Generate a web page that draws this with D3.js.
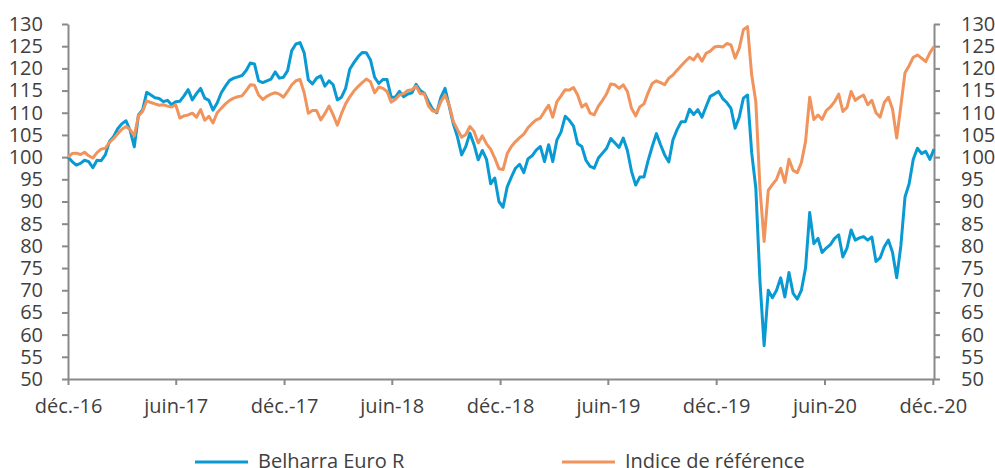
<!DOCTYPE html>
<html>
<head>
<meta charset="utf-8">
<script src="https://cdn.jsdelivr.net/npm/d3@7"></script>
<style>
  body { margin: 0; background: #ffffff; }
  svg { display: block; font-family: "Open Sans", sans-serif; }
</style>
</head>
<body>
<div id="chart"><svg width="995" height="468"></svg></div>
<script>
// weekly closing values (Thursdays), base 100 at 29/12/2016
const dates = [
  "2016-12-29",
  "2017-01-05","2017-01-12","2017-01-19","2017-01-26","2017-02-02","2017-02-09","2017-02-16","2017-02-23",
  "2017-03-02","2017-03-09","2017-03-16","2017-03-23","2017-03-30","2017-04-06","2017-04-13","2017-04-20","2017-04-27",
  "2017-05-04","2017-05-11","2017-05-18","2017-05-25","2017-06-01","2017-06-08","2017-06-15","2017-06-22","2017-06-29",
  "2017-07-06","2017-07-13","2017-07-20","2017-07-27","2017-08-03","2017-08-10","2017-08-17","2017-08-24","2017-08-31",
  "2017-09-07","2017-09-14","2017-09-21","2017-09-28","2017-10-05","2017-10-12","2017-10-19","2017-10-26",
  "2017-11-02","2017-11-09","2017-11-16","2017-11-23","2017-11-30","2017-12-07","2017-12-14","2017-12-21","2017-12-28",
  "2018-01-04","2018-01-11","2018-01-18","2018-01-25","2018-02-01","2018-02-08","2018-02-15","2018-02-22",
  "2018-03-01","2018-03-08","2018-03-15","2018-03-22","2018-03-29","2018-04-05","2018-04-12","2018-04-19","2018-04-26",
  "2018-05-03","2018-05-10","2018-05-17","2018-05-24","2018-05-31","2018-06-07","2018-06-14","2018-06-21","2018-06-28",
  "2018-07-05","2018-07-12","2018-07-19","2018-07-26","2018-08-02","2018-08-09","2018-08-16","2018-08-23","2018-08-30",
  "2018-09-06","2018-09-13","2018-09-20","2018-09-27","2018-10-04","2018-10-11","2018-10-18","2018-10-25",
  "2018-11-01","2018-11-08","2018-11-15","2018-11-22","2018-11-29","2018-12-06","2018-12-13","2018-12-20","2018-12-27",
  "2019-01-03","2019-01-10","2019-01-17","2019-01-24","2019-01-31","2019-02-07","2019-02-14","2019-02-21","2019-02-28",
  "2019-03-07","2019-03-14","2019-03-21","2019-03-28","2019-04-04","2019-04-11","2019-04-18","2019-04-25",
  "2019-05-02","2019-05-09","2019-05-16","2019-05-23","2019-05-30","2019-06-06","2019-06-13","2019-06-20","2019-06-27",
  "2019-07-04","2019-07-11","2019-07-18","2019-07-25","2019-08-01","2019-08-08","2019-08-15","2019-08-22","2019-08-29",
  "2019-09-05","2019-09-12","2019-09-19","2019-09-26","2019-10-03","2019-10-10","2019-10-17","2019-10-24","2019-10-31",
  "2019-11-07","2019-11-14","2019-11-21","2019-11-28","2019-12-05","2019-12-12","2019-12-19","2019-12-26",
  "2020-01-02","2020-01-09","2020-01-16","2020-01-23","2020-01-30","2020-02-06","2020-02-13","2020-02-20","2020-02-27",
  "2020-03-05","2020-03-12","2020-03-19","2020-03-26","2020-04-02","2020-04-09","2020-04-16","2020-04-23","2020-04-30",
  "2020-05-07","2020-05-14","2020-05-21","2020-05-28","2020-06-04","2020-06-11","2020-06-18","2020-06-25",
  "2020-07-02","2020-07-09","2020-07-16","2020-07-23","2020-07-30","2020-08-06","2020-08-13","2020-08-20","2020-08-27",
  "2020-09-03","2020-09-10","2020-09-17","2020-09-24","2020-10-01","2020-10-08","2020-10-15","2020-10-22","2020-10-29",
  "2020-11-05","2020-11-12","2020-11-19","2020-11-26","2020-12-03","2020-12-10","2020-12-17","2020-12-24","2020-12-31"
];

const belharra = [
  100, 99, 98.2, 98.6, 99.3, 99, 97.6, 99.3, 99.2, 100.5,
  103.5, 104.6, 106.4, 107.5, 108.2, 106, 102.3, 109.5, 110.6, 114.6,
  114, 113.4, 113.2, 112.5, 112.8, 111.8, 112.5, 112.6, 113.8, 115.2,
  112.9, 114.3, 115.5, 113.3, 112.8, 110.6, 112.2, 114.5, 116, 117.3,
  117.8, 118.1, 118.4, 119.5, 121.2, 121, 117.2, 116.8, 117.2, 117.6,
  119.2, 117.8, 118, 119.5, 124, 125.5, 125.8, 123.5, 117.4, 116.5,
  117.8, 118.3, 116, 117.2, 116.3, 112.9, 113.5, 115.5, 119.8, 121.3,
  122.6, 123.6, 123.5, 121.9, 118, 116.6, 117.5, 117.5, 113.5, 113.5,
  114.8, 113.6, 114.2, 114.5, 116.4, 115, 114.4, 112.5, 110.8, 110,
  113.5, 115.5, 111.5, 107.5, 104.5, 100.5, 102.4, 105.4, 102.8, 99.4,
  101.5, 99.5, 94, 95.3, 90, 88.7, 93.3, 95.5, 97.5, 98.4,
  96.5, 99.6, 100.3, 101.6, 102.4, 99, 102.8, 99, 103.9, 105.7,
  109.2, 108.3, 107, 103, 102.4, 99.3, 97.9, 97.5, 99.8, 100.9,
  102, 104.2, 103.2, 102.2, 104.3, 101.5, 96.8, 93.7, 95.5, 95.5,
  99.2, 102.4, 105.3, 102.8, 100.5, 98.9, 103.9, 106.2, 108, 108,
  110.8, 109.6, 110.7, 109, 111.4, 113.7, 114.2, 114.8, 113.2, 112.3,
  111, 106.5, 109, 113.3, 114, 101, 93, 72, 57.5, 70,
  68.3, 70, 72.8, 68.5, 74, 69.3, 68, 70, 75, 87.5,
  80.5, 81.7, 78.5, 79.5, 80.3, 81.7, 82.5, 77.5, 79.5, 83.6,
  81.3, 81.8, 82.1, 81.3, 82, 76.5, 77.3, 79.8, 81.3, 78.5,
  72.8, 80, 91, 94, 99.5, 102, 100.8, 101.3, 99.5, 101.8
];

const indice = [
  100, 100.8, 100.9, 100.6, 101.1, 100.3, 99.8, 101, 101.8, 102,
  103.3, 104.2, 105.3, 106.3, 106.9, 106.2, 104.8, 109.3, 110.3, 112.7,
  112.3, 112, 111.7, 111.8, 111.5, 111.3, 111.8, 108.8, 109.3, 109.5,
  109.9, 109, 110.7, 108.3, 109.2, 107.7, 110, 111, 112, 112.8,
  113.3, 113.6, 113.8, 115, 116.3, 116.2, 114, 113, 113.7, 114.2,
  114.5, 114.2, 113.5, 114.8, 116.3, 117.2, 117.5, 114.5, 109.9, 110.5,
  110.5, 108.4, 109.8, 111.5, 109.5, 107.2, 109.8, 112, 113.6, 114.9,
  115.9, 116.8, 117.6, 117, 114.5, 115.8, 115.5, 114.8, 112.4, 113,
  114, 114.3, 115, 115.2, 116, 114.3, 114.3, 111.5, 110.4, 110.2,
  112.5, 114, 111.7, 108, 106.2, 104.5, 105.1, 106.9, 105.8, 103.2,
  104.8, 103, 101.8, 99.8, 97.4, 97.2, 100.8, 102.4, 103.5, 104.4,
  105.2, 106.6, 107.6, 108.4, 108.8, 110.3, 111.7, 109, 112.5, 113.8,
  115.2, 115.1, 115.7, 114, 111.3, 112, 109.9, 109.5, 111.5, 112.8,
  114.3, 116.5, 116.3, 115.5, 116.3, 114.8, 111, 109.3, 111.3, 112,
  114.5, 116.6, 117.2, 116.8, 116.3, 117.8, 118.5, 119.6, 120.6, 121.6,
  122.5, 121.9, 123.2, 121.6, 123.4, 123.9, 124.8, 125, 124.8, 125.6,
  125.3, 122.3, 124.5, 128.7, 129.4, 118.5, 112.5, 93, 81, 92.5,
  93.8, 95, 97.5, 94.3, 99.5, 97, 96.5, 98.8, 103.5, 113.5,
  108.5, 109.5, 108.5, 110.5, 111.3, 112.5, 114.2, 110.3, 111.2, 114.8,
  112.8, 113.5, 114, 111.8, 112.8, 110, 109, 112.3, 113.5, 110.8,
  104.3, 111.5, 119, 120.6, 122.5, 123, 122.3, 121.5, 123.5, 124.9
];

const xTickDates = ["2016-12-29", "2017-06-29", "2017-12-29", "2018-06-29", "2018-12-29",
                    "2019-06-29", "2019-12-29", "2020-06-29", "2020-12-29"];
const xTickLabels = ["déc.-16", "juin-17", "déc.-17", "juin-18", "déc.-18",
                     "juin-19", "déc.-19", "juin-20", "déc.-20"];
const yTicks = [50, 55, 60, 65, 70, 75, 80, 85, 90, 95, 100, 105, 110, 115, 120, 125, 130];

const seriesNames = ["Belharra Euro R", "Indice de référence"];
const seriesColors = ["#0a9ad3", "#f0935c"];

class PerfChart {

  constructor() {
    this.svg = d3.select("#chart svg");
    this.width = parseInt(this.svg.attr("width"));
    this.height = parseInt(this.svg.attr("height"));
    this.margin = {left: 68, right: 61, top: 24, bottom: 89};

    this.axisColor = "#898989";
    this.textColor = "#404040";
    this.fontSize = 20;

    let parse = d3.timeParse("%Y-%m-%d");
    this.dates = dates.map(parse);
    this.tickDates = xTickDates.map(parse);

    this.x = d3.scaleTime()
      .domain([parse("2016-12-29"), parse("2020-12-31")])
      .range([this.margin.left, this.width - this.margin.right]);

    this.y = d3.scaleLinear()
      .domain([50, 130])
      .range([this.height - this.margin.bottom, this.margin.top]);

    this.drawAxes();
    this.drawLines();
    this.drawLegend();
  }

  styleAxis(g) {
    g.attr("font-size", this.fontSize)
      .attr("font-family", null);
    g.select(".domain")
      .attr("stroke", this.axisColor)
      .attr("stroke-width", 2);
    g.selectAll(".tick line")
      .attr("stroke", this.axisColor)
      .attr("stroke-width", 2);
    g.selectAll(".tick text")
      .attr("fill", this.textColor);
  }

  drawAxes() {
    let bottom = this.height - this.margin.bottom;
    let right = this.width - this.margin.right;

    /* Left axis */
    this.svg.append("g")
      .attr("transform", `translate(${this.margin.left},0)`)
      .call(d3.axisLeft(this.y).tickValues(yTicks).tickSize(6).tickSizeOuter(0).tickPadding(19))
      .call(g => this.styleAxis(g));

    /* Right axis (same scale) */
    this.svg.append("g")
      .attr("transform", `translate(${right},0)`)
      .call(d3.axisRight(this.y).tickValues(yTicks).tickSize(6).tickSizeOuter(0).tickPadding(21))
      .call(g => this.styleAxis(g));

    /* Date axis */
    this.svg.append("g")
      .attr("transform", `translate(0,${bottom})`)
      .call(d3.axisBottom(this.x)
        .tickValues(this.tickDates)
        .tickFormat((d, i) => xTickLabels[i])
        .tickSize(6).tickSizeOuter(0).tickPadding(14))
      .call(g => this.styleAxis(g));
  }

  drawLines() {
    let line = d3.line()
      .x((d, i) => this.x(this.dates[i]))
      .y(d => this.y(d));

    [belharra, indice].forEach((serie, k) => {
      this.svg.append("path")
        .datum(serie)
        .attr("fill", "none")
        .attr("stroke", seriesColors[k])
        .attr("stroke-width", 3)
        .attr("stroke-linejoin", "round")
        .attr("d", line);
    });
  }

  drawLegend() {
    let legendX = [195, 562];
    let legendY = 462;

    let item = this.svg.append("g")
      .selectAll("g")
      .data(seriesNames)
      .enter().append("g")
      .attr("transform", (d, i) => `translate(${legendX[i]},${legendY})`);

    item.append("line")
      .attr("x1", 0).attr("x2", 53)
      .attr("stroke", (d, i) => seriesColors[i])
      .attr("stroke-width", 3);

    item.append("text")
      .attr("x", 63)
      .attr("y", 6)
      .attr("font-size", this.fontSize)
      .attr("fill", this.textColor)
      .text(d => d);
  }
}

new PerfChart();
</script>
</body>
</html>
